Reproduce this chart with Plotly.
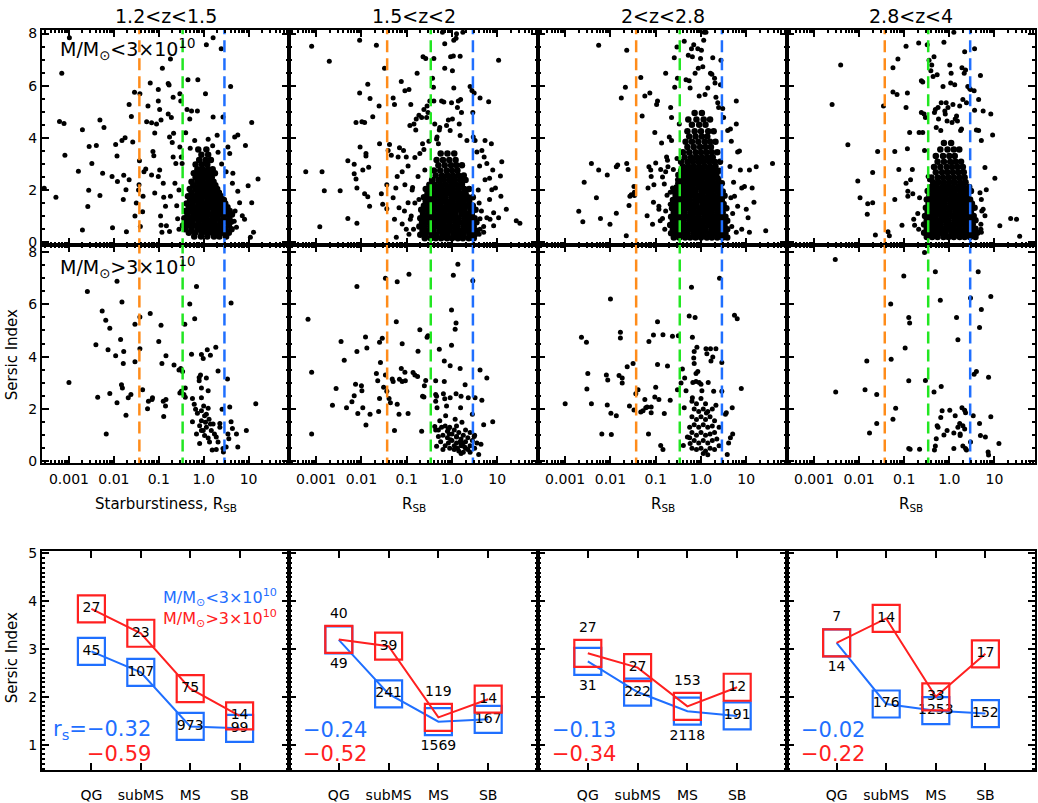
import numpy as np
import plotly.graph_objects as go

W, H = 1038, 803
FONT = "DejaVu Sans"

# ---------------- data ----------------
z_bins = ["1.2&lt;z&lt;1.5", "1.5&lt;z&lt;2", "2&lt;z&lt;2.8", "2.8&lt;z&lt;4"]
rsb_cuts = [0.037, 0.34, 2.9]          # QG|subMS, subMS|MS, MS|SB
rsb_ticks = [0.001, 0.01, 0.1, 1.0, 10]
rsb_ticktext = ["0.001", "0.01", "0.1", "1.0", "10"]

# (log10 R_SB, Sersic n) : low-mass, sparse points
lo_pts_1 = [(-2.99,7.84),(-3.16,6.48),(-3.21,4.63),(-3.11,4.55),(-3.09,3.33),(-3.29,1.72),(-3.55,2.07),(-2.79,2.72),(-2.70,4.31),(-2.55,3.67),(-2.56,1.99),(-2.49,3.02),(-2.58,1.37),(-2.70,0.47),(-2.39,3.71),(-2.31,4.68),(-2.22,4.40),(-2.31,1.79),(-2.25,2.64),(-2.04,2.52),(-2.03,0.55),(-1.96,3.75),(-1.93,3.30),(-1.92,2.33),(-1.82,3.90),(-1.75,4.0),(-1.72,0.40),(-1.78,2.57),(-1.73,2.01),(-1.79,1.64),(-1.66,2.39),(-1.66,5.28),(-1.61,4.82),(-1.58,3.84),(-1.54,5.75),(-1.42,5.69),(-1.43,3.12),(-1.44,2.2),(-1.45,2.0),(-1.50,1.5),(-1.53,1.0),(-1.41,0.6),(-1.35,1.76),(-1.36,1.17),(-1.33,2.70),(-1.29,2.81),(-1.27,4.62),(-1.24,5.22),(-1.19,6.1),(-1.16,4.58),(-1.13,3.48),(-1.11,3.31),(-1.09,4.19),(-1.05,4.53),(-1.09,1.89),(-1.16,2.58),(-1.01,2.52),(-1.01,5.85),(-1.01,5.41),(-0.98,5.09),(-0.95,4.68),(-0.98,2.77),(-0.92,6.67),(-0.90,2.26),(-0.89,1.72),(-0.79,6.08),(-0.77,6.03),(-0.79,4.91),(-0.76,4.03),(-0.72,4.78),(-0.70,3.82),(-0.68,5.56),(-0.67,4.18),(-0.74,7.02),(-0.96,1.0),(-0.85,1.38),(-0.95,0.65),(-0.93,0.38),(-0.83,0.63),(-0.76,0.41),(-0.74,1.76),(-0.68,3.27),(-0.64,2.26),(-0.62,3.02),(-0.53,5.69),(-0.51,5.41),(-0.50,3.27),(-0.48,3.02),(-0.53,3.65),(-0.37,5.09),(-0.27,5.03),(-0.14,5.03),(-0.31,4.72),(-0.35,6.23),(-0.13,6.23),(0.04,5.69),(0.06,7.57),(0.21,7.84),(0.39,7.42),(0.60,5.97),(0.43,4.80),(0.21,4.80),(0.54,3.65),(0.58,3.40),(0.69,4.03),(0.76,4.11),(0.93,3.71),(1.07,4.59),(1.21,2.42),(0.99,2.16),(1.07,1.51),(1.11,0.38),(1.04,0.19),(0.91,0.88),(0.65,2.64),(0.64,2.26),(0.76,1.95),(0.80,1.51),(0.86,1.01),(0.73,0.57),(-0.2,3.9),(0.1,3.95),(0.2,3.7),(0.32,3.45),(-0.3,3.6),(0.4,3.0),(0.5,2.7),(-0.55,2.0),(-0.6,1.4),(-0.58,0.9),(-0.55,0.5),(0.7,1.2),(0.68,0.8),(-0.4,4.2),(0.3,4.1)]
# dense cores: (n, [log10 R_SB, ...]) as read row by row
lo_core_1 = [
 (0.22, [-0.21, -0.06, 0.08, 0.23, 0.35, 0.5]),
 (0.36, [-0.33, -0.19, -0.05, 0.07, 0.19, 0.31, 0.43, 0.56]),
 (0.5, [-0.41, -0.27, -0.13, 0.0, 0.12, 0.25, 0.37, 0.49, 0.62]),
 (0.64, [-0.46, -0.33, -0.2, -0.08, 0.05, 0.17, 0.3, 0.42, 0.56]),
 (0.78, [-0.38, -0.26, -0.12, 0.01, 0.12, 0.24, 0.37, 0.5, 0.61]),
 (0.92, [-0.43, -0.3, -0.17, -0.05, 0.07, 0.2, 0.31, 0.44, 0.57]),
 (1.06, [-0.36, -0.23, -0.1, 0.03, 0.14, 0.27, 0.39, 0.51, 0.63]),
 (1.2, [-0.41, -0.28, -0.15, -0.03, 0.09, 0.22, 0.34, 0.47, 0.58]),
 (1.34, [-0.33, -0.2, -0.08, 0.05, 0.17, 0.29, 0.41, 0.53]),
 (1.48, [-0.38, -0.25, -0.12, 0.0, 0.12, 0.24, 0.36, 0.48]),
 (1.62, [-0.3, -0.17, -0.05, 0.08, 0.2, 0.32, 0.45]),
 (1.76, [-0.35, -0.22, -0.1, 0.03, 0.15, 0.27, 0.39]),
 (1.9, [-0.27, -0.14, -0.02, 0.1, 0.22, 0.34]),
 (2.04, [-0.31, -0.18, -0.06, 0.06, 0.18, 0.3]),
 (2.18, [-0.23, -0.1, 0.02, 0.14, 0.26]),
 (2.32, [-0.27, -0.14, -0.02, 0.1, 0.22]),
 (2.48, [-0.18, -0.06, 0.06, 0.18]),
 (2.64, [-0.22, -0.1, 0.02, 0.14, 0.25]),
 (2.8, [-0.14, -0.02, 0.1, 0.2]),
 (2.98, [-0.18, -0.04, 0.08]),
 (3.15, [-0.1, 0.04, 0.16]),
 (3.35, [-0.05, 0.1]),
 (3.55, [-0.12, 0.06]),
]

lo_pts_2 = [(-3.10,7.51),(-3.23,2.70),(-2.87,2.70),(-2.92,0.59),(-2.82,1.97),(-2.71,6.94),(-2.47,1.97),(-2.30,3.12),(-2.30,0.91),(-2.16,2.99),(-2.16,2.62),(-2.12,4.59),(-2.10,0.73),(-2.12,2.42),(-2.10,2.08),(-2.04,7.74),(-2.04,5.72),(-2.03,3.65),(-1.99,4.62),(-1.97,2.77),(-1.93,4.59),(-1.93,1.86),(-1.90,3.40),(-1.90,3.30),(-1.86,6.06),(-1.84,2.87),(-1.81,5.51),(-1.86,1.74),(-1.82,1.38),(-1.75,4.81),(-1.67,7.55),(-1.61,5.22),(-1.60,3.77),(-1.56,1.86),(-1.53,1.45),(-1.49,6.67),(-1.44,1.28),(-1.44,2.20),(-1.41,3.52),(-1.38,3.75),(-1.34,3.33),(-1.30,5.53),(-1.27,5.28),(-1.30,1.70),(-1.27,0.88),(-1.24,2.08),(-1.23,0.19),(-1.21,2.52),(-1.19,3.27),(-1.17,1.32),(-1.16,3.62),(-1.12,6.16),(-1.10,2.70),(-1.07,3.52),(-1.04,5.81),(-1.01,3.27),(-0.95,5.85),(-0.93,4.47),(-0.91,5.28),(-0.97,2.92),(-1.04,2.20),(-0.97,1.51),(-0.92,0.88),(-1.01,0.50),(-0.87,2.10),(-0.84,4.53),(-0.82,3.25),(-0.80,4.30),(-0.79,4.72),(-0.77,6.48),(-0.75,2.52),(-0.73,4.87),(-0.71,3.40),(-0.73,1.64),(-0.67,4.78),(-0.65,3.77),(-0.64,7.11),(-0.62,3.55),(-0.62,5.09),(-0.60,2.77),(-0.58,7.04),(-0.56,4.78),(-0.55,5.22),(-0.53,4.97),(-0.51,3.87),(-0.49,5.41),(-0.43,6.29),(-0.41,5.94),(-0.40,7.04),(-0.40,5.41),(-0.38,4.53),(-0.34,3.96),(-0.30,3.77),(-0.33,4.03),(-0.28,4.30),(-0.27,4.40),(-0.23,5.41),(-0.21,8.05),(-0.18,5.37),(-0.16,7.61),(-0.16,6.67),(-0.12,4.47),(-0.08,4.68),(-0.04,4.28),(-0.03,7.11),(-0.01,5.35),(0.01,4.72),(0.01,6.57),(0.03,7.14),(0.04,5.91),(0.04,7.74),(0.09,7.82),(0.10,7.99),(0.12,5.16),(0.14,5.41),(0.16,4.53),(0.18,4.09),(0.18,7.13),(0.19,5.47),(0.21,4.97),(0.24,8.05),(0.33,3.90),(0.40,5.97),(0.44,5.82),(0.46,4.97),(0.47,4.03),(0.49,5.72),(0.51,3.90),(0.55,3.46),(0.61,2.92),(0.62,5.53),(0.66,3.52),(0.71,3.27),(0.73,3.90),(0.73,2.39),(0.77,3.02),(0.81,5.38),(0.83,2.45),(0.83,1.64),(0.87,3.77),(0.88,2.01),(0.90,2.77),(0.92,1.13),(0.96,2.08),(1.03,6.98),(1.07,2.54),(1.08,1.76),(1.10,3.08),(1.20,1.26),(1.42,0.82),(1.50,0.73),(0.84,0.88),(0.92,0.63),(0.62,0.50),(0.70,0.38),(1.03,0.94),(0.77,0.94),(-0.85,0.5),(-0.9,1.0),(-0.82,1.5),(-0.95,0.3),(-0.88,2.0),(0.6,0.3),(0.62,0.9),(0.6,1.5),(0.58,2.0),(0.65,1.2),(-1.05,1.2),(-1.1,0.7),(0.7,0.6)]
lo_core_2 = [
 (0.15, [-0.6, -0.47, -0.36, -0.24, -0.11, 0.0, 0.13, 0.24, 0.37, 0.48]),
 (0.29, [-0.7, -0.58, -0.45, -0.34, -0.21, -0.1, 0.03, 0.14, 0.26, 0.39, 0.5]),
 (0.44, [-0.65, -0.53, -0.41, -0.28, -0.17, -0.05, 0.07, 0.2, 0.31, 0.43, 0.55]),
 (0.6, [-0.72, -0.6, -0.47, -0.36, -0.24, -0.11, 0.0, 0.12, 0.25, 0.36, 0.48]),
 (0.76, [-0.66, -0.54, -0.42, -0.3, -0.18, -0.06, 0.07, 0.18, 0.3, 0.42, 0.54]),
 (0.92, [-0.7, -0.58, -0.46, -0.33, -0.22, -0.1, 0.02, 0.14, 0.27, 0.38, 0.5]),
 (1.08, [-0.64, -0.51, -0.4, -0.28, -0.16, -0.04, 0.08, 0.21, 0.32, 0.44]),
 (1.24, [-0.68, -0.56, -0.44, -0.31, -0.2, -0.08, 0.04, 0.16, 0.28, 0.41, 0.52]),
 (1.4, [-0.62, -0.5, -0.38, -0.26, -0.13, -0.02, 0.1, 0.22, 0.34, 0.46]),
 (1.56, [-0.58, -0.46, -0.34, -0.22, -0.1, 0.02, 0.15, 0.26, 0.38]),
 (1.72, [-0.62, -0.5, -0.38, -0.26, -0.14, -0.01, 0.1, 0.22, 0.35, 0.46]),
 (1.88, [-0.54, -0.42, -0.3, -0.18, -0.06, 0.06, 0.18, 0.3]),
 (2.04, [-0.58, -0.46, -0.33, -0.22, -0.1, 0.02, 0.14, 0.27, 0.38]),
 (2.2, [-0.5, -0.38, -0.26, -0.14, -0.02, 0.1, 0.22]),
 (2.38, [-0.44, -0.3, -0.18, -0.06, 0.06, 0.18, 0.3]),
 (2.56, [-0.36, -0.22, -0.1, 0.02, 0.14, 0.26]),
 (2.75, [-0.4, -0.26, -0.12, 0.0, 0.12]),
 (2.95, [-0.3, -0.16, -0.02, 0.1, 0.22]),
 (3.15, [-0.34, -0.2, -0.06, 0.08]),
 (3.4, [-0.25, -0.1, 0.05]),
]

lo_pts_3 = [(-2.70,1.19),(-2.61,0.78),(-2.58,2.30),(-2.42,3.02),(-2.31,1.70),(-2.26,7.55),(-2.26,2.77),(-2.22,0.91),(-2.07,2.58),(-2.01,0.69),(-1.87,1.11),(-1.87,2.89),(-1.84,2.96),(-1.76,5.53),(-1.67,5.94),(-1.64,7.36),(-1.64,3.02),(-1.61,2.79),(-1.57,1.76),(-1.54,1.82),(-1.65,0.25),(-1.48,2.14),(-1.47,1.79),(-1.47,1.91),(-1.59,1.41),(-1.33,6.31),(-1.30,4.84),(-1.24,5.60),(-1.19,1.01),(-1.17,2.08),(-1.15,2.89),(-1.13,5.72),(-1.11,2.77),(-1.10,2.52),(-1.07,0.69),(-1.05,1.53),(-1.04,2.20),(-1.02,4.21),(-1.00,3.04),(-0.98,5.28),(-0.96,5.41),(-0.93,1.38),(-0.93,1.26),(-0.90,0.82),(-0.89,2.79),(-0.87,3.80),(-0.85,0.91),(-0.81,2.23),(-0.78,6.48),(-0.78,2.70),(-0.76,3.27),(-0.74,3.14),(-0.73,2.89),(-0.70,4.03),(-0.68,1.91),(-0.68,1.45),(-0.67,5.16),(-0.65,4.78),(-0.65,3.90),(-0.63,2.08),(-0.61,2.79),(-0.59,7.07),(-0.58,5.94),(-0.53,7.48),(-0.52,6.29),(-0.53,3.21),(-0.52,2.39),(-0.48,4.53),(-0.37,7.70),(-0.33,6.23),(-0.28,7.17),(-0.26,6.19),(-0.24,5.91),(-0.21,7.42),(-0.19,7.11),(-0.16,7.57),(-0.13,6.48),(-0.07,7.42),(-0.06,6.67),(-0.04,5.60),(-0.01,7.04),(0.01,7.36),(0.04,6.73),(0.06,7.74),(0.07,8.05),(0.11,8.05),(0.09,5.66),(0.15,5.91),(0.21,6.48),(0.24,6.44),(0.26,7.07),(0.30,6.29),(0.31,6.10),(0.33,5.56),(0.37,5.35),(0.39,5.16),(0.43,6.04),(0.44,6.98),(0.48,5.13),(0.50,4.78),(0.59,4.28),(0.65,4.34),(0.67,3.87),(0.78,5.41),(0.78,4.53),(0.81,3.46),(0.85,3.50),(0.87,2.77),(0.90,2.08),(0.96,2.14),(1.00,1.26),(1.04,0.94),(1.07,2.77),(1.13,2.08),(1.17,1.53),(1.22,2.89),(1.43,0.44),(1.58,3.02),(0.90,0.50),(1.07,0.38),(0.78,0.38),(0.81,1.38),(0.74,1.76),(-0.8,0.5),(-0.78,1.2),(-0.75,1.8),(-0.85,2.5),(0.68,0.6),(0.7,1.1),(0.66,1.7),(0.72,2.3),(0.64,2.9)]
lo_core_3 = [
 (0.18, [-0.6, -0.48, -0.35, -0.24, -0.12, 0.0, 0.13, 0.24, 0.36, 0.48, 0.58]),
 (0.34, [-0.66, -0.54, -0.42, -0.3, -0.17, -0.06, 0.06, 0.18, 0.31, 0.42, 0.54]),
 (0.5, [-0.62, -0.5, -0.38, -0.26, -0.14, -0.02, 0.1, 0.23, 0.34, 0.46, 0.58]),
 (0.66, [-0.68, -0.56, -0.44, -0.32, -0.2, -0.07, 0.04, 0.16, 0.28, 0.4, 0.52]),
 (0.82, [-0.62, -0.5, -0.38, -0.25, -0.14, -0.02, 0.1, 0.22, 0.35, 0.46, 0.58]),
 (0.98, [-0.66, -0.54, -0.42, -0.3, -0.18, -0.06, 0.07, 0.18, 0.3, 0.42, 0.54]),
 (1.14, [-0.6, -0.48, -0.36, -0.23, -0.12, 0.0, 0.12, 0.24, 0.36, 0.48]),
 (1.3, [-0.64, -0.52, -0.4, -0.28, -0.16, -0.04, 0.08, 0.2, 0.33, 0.44, 0.56]),
 (1.46, [-0.58, -0.46, -0.34, -0.22, -0.1, 0.03, 0.14, 0.26, 0.38, 0.5]),
 (1.62, [-0.62, -0.5, -0.38, -0.26, -0.13, -0.02, 0.1, 0.22, 0.34, 0.46]),
 (1.78, [-0.56, -0.44, -0.32, -0.2, -0.08, 0.04, 0.16, 0.28, 0.4, 0.52]),
 (1.94, [-0.6, -0.48, -0.36, -0.24, -0.12, 0.01, 0.12, 0.24, 0.36, 0.48]),
 (2.1, [-0.54, -0.42, -0.3, -0.18, -0.06, 0.06, 0.18, 0.3, 0.42]),
 (2.26, [-0.5, -0.38, -0.26, -0.14, -0.02, 0.1, 0.22, 0.34, 0.46]),
 (2.42, [-0.46, -0.34, -0.22, -0.1, 0.02, 0.14, 0.26, 0.38]),
 (2.58, [-0.5, -0.38, -0.26, -0.14, -0.02, 0.1, 0.22, 0.34]),
 (2.74, [-0.44, -0.32, -0.2, -0.08, 0.04, 0.16, 0.28, 0.4]),
 (2.9, [-0.4, -0.28, -0.16, -0.04, 0.08, 0.2, 0.32]),
 (3.08, [-0.44, -0.3, -0.18, -0.06, 0.06, 0.18, 0.3, 0.42]),
 (3.26, [-0.36, -0.22, -0.1, 0.02, 0.14, 0.26]),
 (3.45, [-0.4, -0.26, -0.12, 0.0, 0.12, 0.24, 0.36]),
 (3.65, [-0.3, -0.16, -0.02, 0.1, 0.22]),
 (3.85, [-0.34, -0.2, -0.06, 0.08, 0.2, 0.32]),
 (4.05, [-0.26, -0.12, 0.02, 0.14]),
 (4.25, [-0.3, -0.14, 0.0, 0.16, 0.28]),
 (4.5, [-0.2, -0.04, 0.1]),
 (4.7, [-0.28, -0.1, 0.06, 0.2]),
 (4.95, [-0.14, 0.02]),
]

lo_pts_4 = [(-2.41,6.79),(-2.60,5.28),(-2.25,3.74),(-2.03,2.35),(-1.98,1.70),(-1.81,1.47),(-1.70,1.51),(-1.82,1.07),(-1.70,2.67),(-1.64,0.28),(-1.59,3.48),(-1.46,5.22),(-1.36,0.40),(-1.33,0.25),(-1.25,6.69),(-1.25,5.76),(-1.21,1.64),(-1.21,3.48),(-1.16,5.66),(-1.14,7.02),(-1.12,2.79),(-1.05,0.65),(-0.96,5.16),(-0.96,7.51),(-0.93,5.72),(-0.93,3.58),(-0.96,2.26),(-0.92,1.76),(-0.92,1.95),(-0.88,4.21),(-0.86,2.39),(-0.82,2.79),(-0.81,1.86),(-0.79,0.88),(-0.77,0.65),(-0.68,7.64),(-0.67,4.21),(-0.62,6.19),(-0.62,4.97),(-0.59,6.14),(-0.59,4.21),(-0.56,4.91),(-0.55,3.52),(-0.53,4.78),(-0.49,7.57),(-0.47,2.52),(-0.45,6.98),(-0.44,2.39),(-0.41,6.57),(-0.39,6.79),(-0.36,6.35),(-0.34,7.11),(-0.33,4.97),(-0.31,5.09),(-0.29,4.40),(-0.27,6.42),(-0.25,5.16),(-0.24,4.72),(-0.19,4.28),(-0.18,5.35),(-0.14,5.97),(-0.12,7.67),(-0.10,5.03),(-0.09,4.91),(-0.07,5.35),(-0.05,4.65),(-0.03,5.16),(0.01,6.79),(0.03,6.10),(0.04,6.48),(0.06,4.59),(0.08,5.28),(0.10,8.05),(0.12,6.04),(0.13,4.72),(0.16,4.84),(0.18,4.65),(0.23,5.22),(0.25,4.28),(0.27,4.34),(0.28,6.69),(0.30,5.47),(0.33,6.48),(0.34,7.30),(0.36,6.60),(0.38,5.35),(0.41,5.97),(0.45,5.89),(0.47,5.85),(0.55,5.81),(0.56,7.42),(0.56,5.06),(0.60,4.30),(0.65,5.47),(0.65,4.28),(0.69,6.39),(0.71,3.90),(0.75,5.03),(0.79,2.86),(0.82,2.01),(0.92,4.91),(0.96,4.11),(1.01,2.45),(1.12,0.63),(1.36,0.91),(1.49,0.88),(1.56,0.23),(0.71,1.64),(0.75,1.26),(0.79,1.01),(0.70,0.69),(0.71,0.38),(-0.68,0.5),(-0.7,1.1),(-0.66,1.7),(0.7,0.5),(0.72,1.2),(0.68,1.9)]
lo_core_4 = [
 (0.2, [-0.5, -0.38, -0.26, -0.13, -0.02, 0.1, 0.23, 0.34, 0.46, 0.58]),
 (0.36, [-0.56, -0.44, -0.32, -0.2, -0.08, 0.05, 0.16, 0.28, 0.4, 0.52, 0.62]),
 (0.52, [-0.5, -0.38, -0.25, -0.14, -0.02, 0.1, 0.22, 0.35, 0.46, 0.58]),
 (0.68, [-0.56, -0.44, -0.32, -0.2, -0.07, 0.04, 0.16, 0.28, 0.4, 0.52]),
 (0.84, [-0.5, -0.38, -0.26, -0.14, -0.02, 0.11, 0.22, 0.34, 0.46, 0.58]),
 (1.0, [-0.54, -0.42, -0.3, -0.17, -0.06, 0.06, 0.18, 0.3, 0.42, 0.54]),
 (1.16, [-0.48, -0.36, -0.24, -0.12, 0.0, 0.13, 0.24, 0.36, 0.48]),
 (1.32, [-0.52, -0.4, -0.28, -0.16, -0.04, 0.08, 0.2, 0.32, 0.44, 0.56]),
 (1.48, [-0.46, -0.34, -0.22, -0.1, 0.03, 0.14, 0.26, 0.38, 0.5]),
 (1.64, [-0.5, -0.38, -0.26, -0.14, -0.02, 0.1, 0.22, 0.34, 0.46]),
 (1.8, [-0.44, -0.32, -0.2, -0.08, 0.04, 0.16, 0.28, 0.4]),
 (1.96, [-0.48, -0.36, -0.24, -0.12, 0.0, 0.12, 0.24, 0.36, 0.48]),
 (2.12, [-0.4, -0.28, -0.16, -0.04, 0.08, 0.2, 0.32, 0.44]),
 (2.3, [-0.36, -0.24, -0.12, 0.0, 0.12, 0.24, 0.36]),
 (2.48, [-0.4, -0.26, -0.14, -0.02, 0.1, 0.22, 0.34]),
 (2.68, [-0.3, -0.16, -0.04, 0.08, 0.2, 0.32]),
 (2.88, [-0.34, -0.2, -0.06, 0.06, 0.18, 0.3]),
 (3.08, [-0.26, -0.12, 0.02, 0.14, 0.26]),
 (3.3, [-0.3, -0.14, 0.0, 0.12]),
 (3.55, [-0.2, -0.04, 0.1, 0.22]),
 (3.8, [-0.12, 0.04]),
]

# high-mass points (log10 R_SB, n)
hi_pts_1 = [(-3.0,3.01),(-2.59,6.49),(-2.40,4.45),(-2.36,2.45),(-2.26,5.74),(-2.18,5.39),(-2.17,1.05),(-2.13,4.26),(-2.09,5.08),(-2.09,2.59),(-1.96,4.03),(-1.93,6.88),(-1.93,2.24),(-1.85,4.65),(-1.82,6.09),(-1.83,2.93),(-1.81,2.80),(-1.78,4.20),(-1.79,3.74),(-1.73,1.76),(-1.68,2.43),(-1.62,2.55),(-1.53,5.24),(-1.53,3.80),(-1.42,5.51),(-1.42,4.30),(-1.36,2.74),(-1.25,2.01),(-1.23,2.30),(-1.19,5.65),(-1.15,2.36),(-1.14,2.43),(-0.95,5.20),(-1.00,4.58),(-0.93,3.74),(-0.90,2.30),(-0.89,1.71),(-0.85,2.11),(-0.84,4.03),(-0.84,2.36),(-0.66,3.68),(-0.55,3.49),(-0.51,3.55),(-0.47,3.43),(-0.53,2.61),(-0.50,2.68),(-0.44,2.55),(-0.41,2.80),(-0.41,2.45),(-0.42,5.24),(-0.31,6.01),(-0.27,4.09),(-0.25,2.40),(-0.25,1.51),(-0.21,2.18),(-0.20,5.45),(-0.18,1.99),(-0.16,1.05),(-0.14,1.84),(-0.16,6.68),(-0.10,3.20),(-0.10,3.08),(-0.07,3.30),(-0.05,2.80),(-0.05,2.43),(-0.05,4.08),(-0.01,3.93),(0.0,2.11),(-0.05,1.93),(-0.09,1.36),(-0.05,1.18),(0.02,1.74),(0.06,1.80),(0.04,1.49),(0.06,1.30),(0.02,0.99),(-0.09,0.68),(0.10,2.03),(0.10,2.70),(0.06,3.18),(0.08,4.26),(0.15,4.05),(0.10,0.89),(0.13,0.74),(0.15,1.43),(0.17,1.18),(0.19,0.43),(0.24,1.05),(0.28,0.45),(0.27,4.36),(0.32,3.45),(0.36,1.45),(0.36,1.30),(0.41,1.99),(0.43,0.49),(0.44,0.36),(0.50,0.55),(0.53,3.15),(0.58,2.08),(0.54,1.05),(0.56,0.86),(0.61,6.05),(0.61,1.51),(0.64,1.26),(0.73,1.05),(0.76,0.55),(0.95,1.18),(1.16,2.20),(-0.05,1.55),(-0.01,1.18),(0.12,1.61),(0.21,1.43),(0.28,0.93),(0.32,0.74)]
hi_pts_2 = [(-3.18,5.43),(-3.10,3.40),(-3.10,1.05),(-2.64,2.14),(-2.56,2.78),(-2.45,4.58),(-2.38,3.86),(-2.33,2.05),(-2.21,2.28),(-2.16,2.51),(-2.13,2.95),(-2.10,6.68),(-2.10,4.20),(-2.08,1.83),(-2.0,2.89),(-1.99,2.70),(-1.97,2.05),(-1.91,4.75),(-1.88,4.33),(-1.90,1.39),(-1.81,1.80),(-1.67,3.36),(-1.64,3.08),(-1.62,1.90),(-1.60,4.55),(-1.58,3.78),(-1.60,2.40),(-1.54,4.70),(-1.51,2.83),(-1.47,6.99),(-1.47,3.30),(-1.44,2.68),(-1.39,2.40),(-1.36,2.24),(-1.32,3.15),(-1.30,3.05),(-1.27,1.18),(-1.23,5.33),(-1.21,6.86),(-1.21,2.18),(-1.17,1.80),(-1.16,3.14),(-1.12,3.55),(-1.10,4.49),(-1.10,3.05),(-1.04,3.40),(-1.03,3.08),(-0.97,1.83),(-0.95,7.15),(-0.86,3.39),(-0.82,3.30),(-0.76,3.24),(-0.75,4.21),(-0.71,5.03),(-0.67,1.15),(-0.65,2.49),(-0.62,2.46),(-0.61,2.89),(-0.58,3.09),(-0.55,4.74),(-0.53,4.80),(-0.36,3.08),(-0.36,2.55),(-0.34,2.49),(-0.36,2.30),(-0.33,2.05),(-0.28,4.28),(-0.38,1.33),(-0.36,1.20),(-0.30,0.95),(-0.34,0.58),(-0.27,1.55),(-0.23,1.30),(-0.17,3.83),(-0.17,3.05),(-0.19,2.58),(-0.16,2.39),(-0.14,1.74),(-0.12,2.11),(-0.08,1.24),(-0.04,3.65),(-0.04,2.43),(-0.06,1.05),(-0.03,0.83),(-0.01,5.78),(-0.01,4.43),(0.03,7.11),(0.07,5.05),(0.09,5.28),(0.09,2.58),(0.07,1.61),(0.10,0.93),(0.13,7.53),(0.18,3.55),(0.20,2.49),(0.19,2.05),(0.22,1.49),(0.24,0.70),(0.29,2.93),(0.36,2.43),(0.46,6.90),(0.45,1.80),(0.49,0.95),(0.51,2.43),(0.59,0.26),(0.62,3.49),(0.66,2.33),(0.64,0.65),(0.70,1.40),(0.77,3.18),(0.90,1.51),(-0.3,1.2),(-0.2,1.0),(-0.1,0.9),(0.0,0.8),(0.1,0.7),(0.2,0.6),(0.3,0.5),(-0.25,0.75),(-0.15,0.6),(-0.05,0.5),(0.05,0.45),(0.15,0.4),(0.25,0.35),(0.35,0.45),(0.4,0.6),(0.45,0.8),(0.35,0.9),(0.25,1.0),(0.15,1.1),(0.05,1.2),(-0.05,1.3),(-0.15,1.35),(0.1,1.35),(0.3,1.2),(0.4,1.1),(0.5,1.0),(0.55,0.7),(0.5,0.5),(0.1,0.95),(0.0,1.05),(-0.1,1.15),(0.2,0.85),(0.3,0.75),(0.05,0.6),(-0.2,0.45),(0.2,0.3),(0.12,0.5),(0.28,0.55),(0.4,0.35),(-0.08,0.7),(0.18,0.75)]
hi_pts_3 = [(-3.0,2.2),(-2.64,4.74),(-2.53,4.55),(-2.50,3.36),(-2.52,2.76),(-2.42,2.2),(-2.19,1.05),(-2.09,3.30),(-2.06,3.11),(-2.07,2.15),(-2.0,6.20),(-1.99,1.84),(-1.98,1.03),(-1.87,1.74),(-1.81,3.28),(-1.78,4.93),(-1.78,4.71),(-1.74,3.18),(-1.74,2.99),(-1.63,3.61),(-1.58,2.11),(-1.50,3.74),(-1.48,1.96),(-1.44,2.58),(-1.39,2.74),(-1.33,1.89),(-1.28,1.93),(-1.24,2.36),(-1.22,2.05),(-1.19,2.08),(-1.16,1.05),(-1.15,4.58),(-1.10,1.86),(-1.10,2.08),(-1.05,4.83),(-1.02,2.46),(-1.00,2.83),(-0.96,5.33),(-0.96,3.70),(-0.93,2.36),(-0.89,0.61),(-0.84,4.84),(-0.84,0.45),(-0.81,1.83),(-0.74,3.64),(-0.68,2.33),(-0.63,4.78),(-0.52,2.74),(-0.50,4.80),(-0.44,2.99),(-0.41,3.53),(-0.39,0.61),(-0.37,2.05),(-0.36,3.18),(-0.33,2.70),(-0.30,0.93),(-0.26,5.55),(-0.24,0.68),(-0.21,6.65),(-0.19,4.74),(-0.19,2.43),(-0.18,3.01),(-0.16,3.95),(-0.15,4.20),(-0.15,3.74),(-0.13,5.49),(-0.11,3.05),(-0.11,3.36),(-0.07,3.43),(-0.09,4.36),(-0.04,3.01),(0.0,2.95),(0.02,2.70),(0.11,4.30),(0.13,4.11),(0.16,3.01),(0.21,4.30),(0.22,3.83),(0.26,3.99),(0.28,2.68),(0.33,4.30),(0.33,2.14),(0.41,6.99),(0.46,3.78),(0.46,2.68),(0.54,1.80),(0.56,1.86),(0.58,0.26),(0.61,0.70),(0.65,0.90),(0.70,1.05),(0.69,2.05),(0.74,5.58),(0.80,5.45),(0.89,2.78),(-0.2,2.3),(-0.1,2.2),(0.0,2.4),(0.1,2.2),(-0.15,2.0),(-0.05,1.9),(0.05,2.0),(0.15,1.9),(0.25,2.0),(-0.2,1.7),(-0.1,1.6),(0.0,1.7),(0.1,1.6),(0.2,1.7),(0.3,1.55),(-0.15,1.4),(-0.05,1.3),(0.05,1.4),(0.15,1.3),(0.25,1.35),(-0.2,1.1),(-0.1,1.0),(0.0,1.1),(0.1,1.0),(0.2,1.05),(0.3,1.1),(-0.15,0.8),(-0.05,0.7),(0.05,0.8),(0.15,0.7),(0.25,0.8),(0.35,0.85),(-0.2,0.5),(-0.1,0.45),(0.0,0.5),(0.1,0.4),(0.2,0.5),(0.3,0.45),(0.05,0.3),(0.15,0.25),(0.4,0.6),(0.4,1.3),(-0.25,1.3),(-0.25,0.9),(0.12,1.85)]
hi_pts_4 = [(-2.53,7.71),(-2.52,2.65),(-1.87,2.74),(-1.83,3.83),(-1.77,1.08),(-1.61,1.45),(-1.61,2.55),(-1.30,6.01),(-1.29,3.90),(-1.25,1.61),(-1.19,2.03),(-1.01,7.08),(-0.98,4.33),(-0.90,5.49),(-0.88,5.28),(-0.90,3.08),(-0.90,0.49),(-0.87,0.46),(-0.66,0.46),(-0.55,7.98),(-0.53,3.09),(-0.34,2.65),(-0.33,0.43),(-0.31,7.24),(-0.31,0.59),(-0.29,0.86),(-0.27,1.36),(-0.25,1.30),(-0.20,6.15),(-0.19,1.68),(-0.18,2.86),(-0.16,1.93),(-0.12,1.01),(-0.05,1.18),(0.01,1.95),(0.10,1.08),(0.10,0.49),(0.13,1.74),(0.16,5.49),(0.19,1.30),(0.19,4.64),(0.23,1.45),(0.24,1.05),(0.24,0.99),(0.28,2.05),(0.30,1.36),(0.30,0.59),(0.34,1.95),(0.34,1.24),(0.36,1.86),(0.36,0.49),(0.38,0.43),(0.47,6.24),(0.47,0.74),(0.53,1.74),(0.55,3.33),(0.60,3.43),(0.64,7.24),(0.67,5.11),(0.67,1.45),(0.69,0.99),(0.71,5.80),(0.80,0.93),(0.87,0.24),(0.87,3.21),(0.92,6.30),(0.92,1.70),(0.86,0.36),(1.10,0.68)]

# bottom row: median Sersic index per class
classes = ["QG", "subMS", "MS", "SB"]
n_lo = [[2.95, 2.51, 1.38, 1.34], [3.19, 2.06, 1.48, 1.53], [2.74, 2.10, 1.70, 1.60], [3.13, 1.85, 1.71, 1.65]]
n_hi = [[3.84, 3.33, 2.17, 1.60], [3.20, 3.06, 1.57, 1.95], [2.91, 2.61, 1.80, 2.20], [3.13, 3.64, 2.00, 2.90]]
N_lo = [[45, 107, 973, 99], [49, 241, 1569, 167], [31, 222, 2118, 191], [14, 176, 1253, 152]]
N_hi = [[27, 23, 75, 14], [40, 39, 119, 14], [27, 27, 153, 12], [7, 14, 33, 17]]
rs_lo = ["−0.32", "−0.24", "−0.13", "−0.02"]
rs_hi = ["−0.59", "−0.52", "−0.34", "−0.22"]

# ---------------- styling / layout helpers ----------------
BLUE = "#1f6fff"
RED = "#ff2020"
cut_colors = ["#ff8c1a", "#22e622", "#1f6fff"]
lbl_pos_hi = [["middle center"] * 4,
              ["top center", "middle center", "top center", "middle center"],
              ["top center", "middle center", "top center", "middle center"],
              ["top center", "middle center", "middle center", "middle center"]]
lbl_pos_lo = [["middle center"] * 4,
              ["bottom center", "middle center", "bottom center", "middle center"],
              ["bottom center", "middle center", "bottom center", "middle center"],
              ["bottom center", "middle center", "middle center", "middle center"]]

cols_px = [(42, 289), (289, 538), (538, 787), (787, 1035)]
rows_px = [(24, 243), (243, 465), (554, 777)]


def px_x(v):
    return v / W


def px_y(v):
    return 1 - v / H


def expand(core):
    return [(x, n) for n, xs in core for x in xs]


lo_sparse = [lo_pts_1, lo_pts_2, lo_pts_3, lo_pts_4]
lo_dense = [expand(lo_core_1), expand(lo_core_2), expand(lo_core_3), expand(lo_core_4)]
hi_all = [hi_pts_1, hi_pts_2, hi_pts_3, hi_pts_4]

fig = go.Figure()
layout = dict(width=W, height=H, margin=dict(l=0, r=0, t=0, b=0),
              paper_bgcolor="white", plot_bgcolor="white", showlegend=False,
              font=dict(family=FONT, color="black"))

minor_log = [m * 10.0 ** e for e in range(-4, 2) for m in range(2, 10)]


def add_points(pts, xr, yr, size):
    fig.add_trace(go.Scatter(x=[10 ** p[0] for p in pts], y=[p[1] for p in pts],
                             mode="markers", xaxis=xr, yaxis=yr, hoverinfo="skip",
                             marker=dict(color="black", size=size, line=dict(width=0))))


ann = []
for r in range(3):
    for c in range(4):
        k = r * 4 + c + 1
        xa = "xaxis" if k == 1 else f"xaxis{k}"
        ya = "yaxis" if k == 1 else f"yaxis{k}"
        xr = "x" if k == 1 else f"x{k}"
        yr = "y" if k == 1 else f"y{k}"
        common = dict(showline=True, linewidth=2, linecolor="black", mirror="allticks",
                      ticks="inside", tickwidth=1.5, tickcolor="black", showgrid=False,
                      zeroline=False, tickfont=dict(family=FONT, size=14, color="black"))
        xdom = [px_x(cols_px[c][0]), px_x(cols_px[c][1])]
        ydom = [px_y(rows_px[r][1]), px_y(rows_px[r][0])]
        if r < 2:
            layout[xa] = dict(domain=xdom, anchor=yr, type="log", range=[-3.6, 1.9],
                              tickmode="array", tickvals=rsb_ticks, ticktext=rsb_ticktext,
                              ticklen=7, showticklabels=(r == 1), ticklabelstandoff=2,
                              minor=dict(ticks="inside", ticklen=3, tickvals=minor_log, tickcolor="black"),
                              **common)
            yrange = [-0.11, 8.15] if r == 0 else [-0.08, 8.26]
            layout[ya] = dict(domain=ydom, anchor=xr, range=yrange, tickmode="array",
                              tickvals=[0, 2, 4, 6, 8], ticklen=7, showticklabels=(c == 0),
                              minor=dict(ticks="inside", ticklen=3, dtick=0.5, tickcolor="black"),
                              **common)
            if r == 0:
                add_points(lo_sparse[c], xr, yr, 5)
                add_points(lo_dense[c], xr, yr, 6.5)
            else:
                add_points(hi_all[c], xr, yr, 5)
            for cut, col in zip(rsb_cuts, cut_colors):
                fig.add_trace(go.Scatter(x=[cut, cut], y=[-1, 9], mode="lines", xaxis=xr, yaxis=yr,
                                         hoverinfo="skip", line=dict(color=col, width=2.5, dash="12px,6px")))
        else:
            layout[xa] = dict(domain=xdom, anchor=yr, type="category", categoryorder="array",
                              categoryarray=classes, range=[-1, 4], ticklen=7,
                              ticklabelstandoff=11, **common)
            layout[ya] = dict(domain=ydom, anchor=xr, range=[0.46, 5.05], tickmode="array",
                              tickvals=[1, 2, 3, 4, 5], ticklen=7, showticklabels=(c == 0),
                              minor=dict(ticks="inside", ticklen=3, dtick=0.1, tickcolor="black"),
                              **common)
            fig.add_trace(go.Scatter(x=classes, y=n_lo[c], mode="lines+markers+text", xaxis=xr, yaxis=yr,
                                     text=[str(v) for v in N_lo[c]], textposition=lbl_pos_lo[c],
                                     textfont=dict(family=FONT, size=14, color="black"),
                                     line=dict(color=BLUE, width=2), hoverinfo="skip",
                                     marker=dict(symbol="square-open", size=27, color=BLUE,
                                                 line=dict(color=BLUE, width=2.2))))
            fig.add_trace(go.Scatter(x=classes, y=n_hi[c], mode="lines+markers+text", xaxis=xr, yaxis=yr,
                                     text=[str(v) for v in N_hi[c]], textposition=lbl_pos_hi[c],
                                     textfont=dict(family=FONT, size=14, color="black"),
                                     line=dict(color=RED, width=2), hoverinfo="skip",
                                     marker=dict(symbol="square-open", size=27, color=RED,
                                                 line=dict(color=RED, width=2.2))))
            if c == 0:
                ann.append(dict(x=px_x(153), y=px_y(736), xanchor="right", yanchor="middle",
                                text="r<sub>s</sub>=" + rs_lo[c], font=dict(size=21, color=BLUE)))
                ann.append(dict(x=px_x(153), y=px_y(760), xanchor="right", yanchor="middle",
                                text=rs_hi[c], font=dict(size=21, color=RED)))
            else:
                x0 = cols_px[c][0] + 12
                ann.append(dict(x=px_x(x0), y=px_y(736), xanchor="left", yanchor="middle",
                                text=rs_lo[c], font=dict(size=21, color=BLUE)))
                ann.append(dict(x=px_x(x0), y=px_y(760), xanchor="left", yanchor="middle",
                                text=rs_hi[c], font=dict(size=21, color=RED)))

# titles and labels
for c in range(4):
    cx = (cols_px[c][0] + cols_px[c][1]) / 2
    ann.append(dict(x=px_x(cx), y=px_y(10), xanchor="center", yanchor="middle",
                    text=z_bins[c], font=dict(size=19)))
    ann.append(dict(x=px_x(cx), y=px_y(507), xanchor="center", yanchor="middle",
                    text=("Starburstiness, R<sub>SB</sub>" if c == 0 else "R<sub>SB</sub>"),
                    font=dict(size=15)))

ann.append(dict(x=px_x(58), y=px_y(44), xanchor="left", yanchor="middle",
                text="M/M<sub>⊙</sub>&lt;3×10<sup>10</sup>", font=dict(size=19)))
ann.append(dict(x=px_x(58), y=px_y(266), xanchor="left", yanchor="middle",
                text="M/M<sub>⊙</sub>&gt;3×10<sup>10</sup>", font=dict(size=19)))
ann.append(dict(x=px_x(279), y=px_y(601), xanchor="right", yanchor="middle",
                text="M/M<sub>⊙</sub>&lt;3×10<sup>10</sup>", font=dict(size=16, color=BLUE)))
ann.append(dict(x=px_x(279), y=px_y(623), xanchor="right", yanchor="middle",
                text="M/M<sub>⊙</sub>&gt;3×10<sup>10</sup>", font=dict(size=16, color=RED)))
ann.append(dict(x=px_x(12), y=px_y(355), xanchor="center", yanchor="middle", textangle=-90,
                text="Sersic Index", font=dict(size=15)))
ann.append(dict(x=px_x(12), y=px_y(663), xanchor="center", yanchor="middle", textangle=-90,
                text="Sersic Index", font=dict(size=15)))

for a in ann:
    a.update(xref="paper", yref="paper", showarrow=False)
    a.setdefault("font", {})
    a["font"].setdefault("family", FONT)
    a["font"].setdefault("color", "black")

layout["annotations"] = ann
fig.update_layout(**layout)
fig.write_html("out.html")
